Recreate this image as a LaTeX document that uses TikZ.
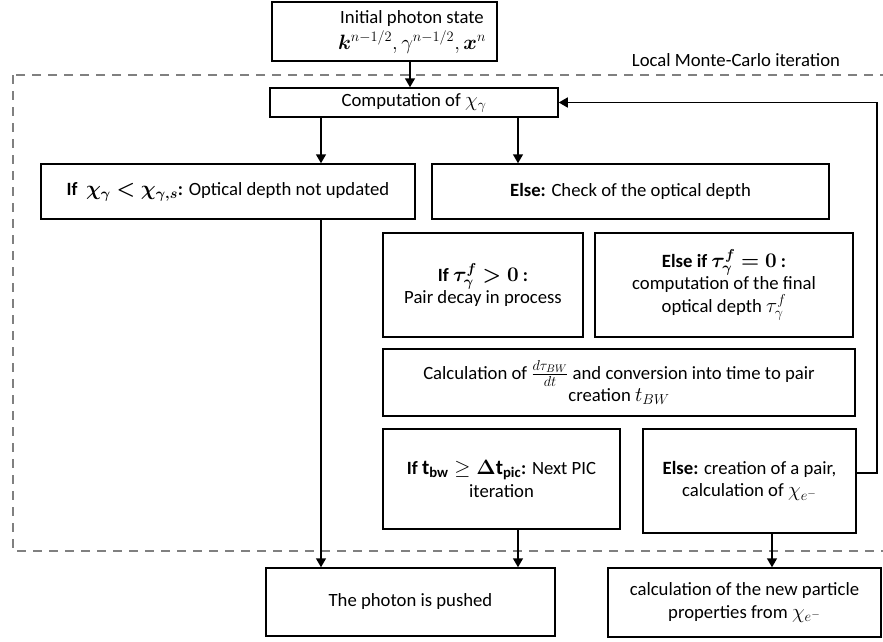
\documentclass[tikz,border=0pt]{standalone}
\usepackage{amsmath,bm}
\usepackage{fontspec}
\setmainfont{Carlito}
\usetikzlibrary{arrows.meta}
\newcommand{\Mx}[1]{{\fontsize{21}{22.5}\selectfont$#1$}}
\tikzset{
  box/.style={draw=black, line width=1.5pt, fill=white, inner sep=2pt, align=center, font=\fontsize{18.7}{22.5}\selectfont},
  txt/.style={inner sep=0pt, align=center, font=\fontsize{18.7}{22.5}\selectfont},
  arr/.style={line width=1.5pt, -{Triangle[length=9pt,width=10pt]}},
  mcline/.style={draw=gray, line width=2pt, dash pattern=on 9pt off 7pt},
}
\begin{document}
\begin{tikzpicture}[x=1pt,y=-1pt]
\useasboundingbox (0,0) rectangle (883,641);
\begin{scope}
\clip (0,0) rectangle (883,641);
\draw[mcline] (13,75) rectangle (895,551);
\end{scope}
\node[txt] (mclabel) at (736,60) {Local Monte-Carlo iteration};

\node[box, minimum width=225pt, minimum height=59pt] (init) at (384.5,31.5) {};
\node[txt] (inittext) at (412,32)
  {Initial photon state\\[3pt] \Mx{\bm{k}^{n-1/2},\gamma^{n-1/2},\bm{x}^{n}}};
\node[box, minimum width=288pt, minimum height=29pt] (comp) at (414,102.5)
  {Computation of \Mx{\chi_\gamma}};
\node[box, minimum width=374pt, minimum height=55pt] (left) at (228,191.5)
  {\textbf{If} \ \Mx{\bm{\chi_\gamma < \chi_{\gamma,s}}}\textbf{:} Optical depth not updated};
\node[box, minimum width=397pt, minimum height=55pt] (else) at (630.5,191.5)
  {\textbf{Else:} Check of the optical depth};
\node[box, minimum width=200pt, minimum height=104pt] (tauA) at (483,285)
  {\textbf{If} \Mx{\bm{\tau_\gamma^f > 0}} \textbf{:}\\ Pair decay in process};
\node[box, minimum width=258pt, minimum height=104pt] (tauB) at (724,285)
  {\textbf{Else if} \Mx{\bm{\tau_\gamma^f = 0}} \textbf{:}\\ computation of the final\\ optical depth \Mx{\tau_\gamma^f}};
\node[box, minimum width=472pt, minimum height=67pt] (calc) at (619,382.5)
  {Calculation of \Mx{\frac{d\tau_{BW}}{dt}} and conversion into time to pair\\ creation \Mx{t_{BW}}};
\node[box, minimum width=237pt, minimum height=100pt] (tbw) at (501.5,479)
  {\textbf{If} \Mx{\mathbf{t_{bw}} \geq \bm{\Delta}\mathbf{t_{pic}}}\textbf{:} Next PIC\\ iteration};
\node[box, minimum width=213pt, minimum height=104pt] (pair) at (749.5,481)
  {\textbf{Else:} creation of a pair,\\ calculation of \Mx{\chi_{e^-}}};
\node[box, minimum width=289pt, minimum height=68pt] (push) at (410.5,602)
  {The photon is pushed};
\node[box, minimum width=273pt, minimum height=69pt] (new) at (744.5,602.5)
  {calculation of the new particle\\ properties from \Mx{\chi_{e^-}}};

\coordinate (xa) at (410,0);
\coordinate (xl) at (321,0);
\coordinate (xr) at (518,0);
\coordinate (xp) at (772,0);
\coordinate (fb1) at (877,473);
\coordinate (fb2) at (877,102.5);

\draw[arr] (init.south -| xa) -- (comp.north -| xa);
\draw[arr] (comp.south -| xl) -- (left.north -| xl);
\draw[arr] (comp.south -| xr) -- (else.north -| xr);
\draw[arr] (left.south -| xl) -- (push.north -| xl);
\draw[arr] (tbw.south -| xr) -- (push.north -| xr);
\draw[arr] (pair.south -| xp) -- (new.north -| xp);
\draw[arr] (pair.east |- fb1) -- (fb1) -- (fb2) -- (comp.east);
\end{tikzpicture}
\end{document}
